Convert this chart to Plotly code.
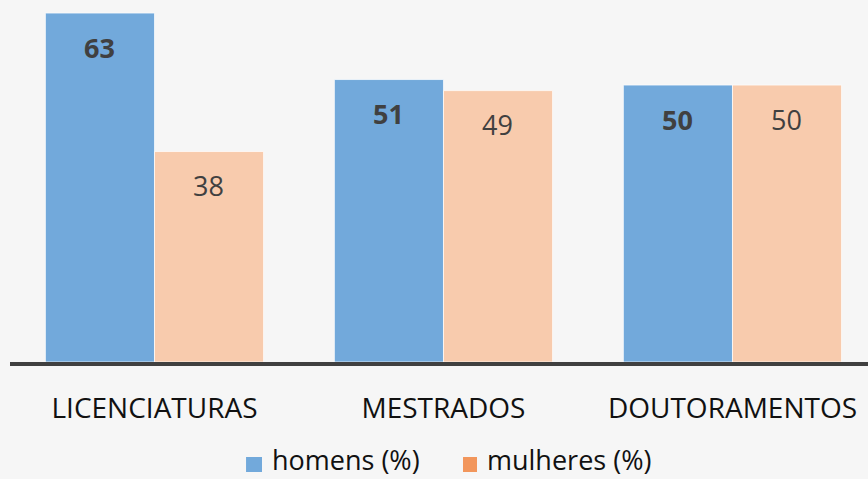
import plotly.graph_objects as go

categories = ["LICENCIATURAS", "MESTRADOS", "DOUTORAMENTOS"]
homens = [63, 51, 50]
mulheres = [38, 49, 50]
series_names = ["homens (%)", "mulheres (%)"]

blue = "#72A9DB"
peach = "#F8CBAD"
legend_orange = "#F2965C"
text_dark = "#404040"
font_family = "Open Sans, Noto Sans, Liberation Sans, sans-serif"

fig = go.Figure()
fig.add_trace(go.Bar(x=categories, y=homens, name=series_names[0], marker=dict(color=blue, line=dict(color="rgba(255,255,255,0.7)", width=1)), showlegend=False))
fig.add_trace(go.Bar(x=categories, y=mulheres, name=series_names[1], marker=dict(color=peach, line=dict(color="rgba(255,255,255,0.7)", width=1)), showlegend=False))

for c, h, m in zip(categories, homens, mulheres):
    fig.add_annotation(x=c, y=h, text=f"<b>{h}</b>", showarrow=False, xshift=-54.5, yshift=-34,
                       font=dict(size=27, color=text_dark, family=font_family))
    fig.add_annotation(x=c, y=m, text=f"{m}", showarrow=False, xshift=54.5, yshift=-34,
                       font=dict(size=27, color=text_dark, family=font_family))

# manual legend (squares + labels) below the axis
legend_items = [
    (series_names[0], blue, 0.2751, 0.2937, 0.303),
    (series_names[1], legend_orange, 0.528, 0.5443, 0.5536),
]
for name, col, sx0, sx1, tx in legend_items:
    fig.add_shape(type="rect", xref="paper", yref="paper", x0=sx0, x1=sx1, y0=-0.3056, y1=-0.2639,
                  fillcolor=col, line=dict(width=0))
    fig.add_annotation(xref="paper", yref="paper", x=tx, y=-0.2722, xanchor="left", yanchor="middle",
                       text=name, showarrow=False, font=dict(size=27, color="#111111", family=font_family))

fig.update_layout(
    width=868, height=479,
    margin=dict(l=10, r=0, t=2, b=117, autoexpand=False),
    paper_bgcolor="#F6F6F6", plot_bgcolor="rgba(0,0,0,0)",
    barmode="group", bargap=0.245, bargroupgap=0,
    font=dict(family=font_family, color="#111111"),
    showlegend=False,
)
fig.update_xaxes(range=[-0.5, 2.469], showline=True, linecolor="#404040", linewidth=4,
                 showgrid=False, ticks="", tickfont=dict(size=28, color="#111111"), ticklabelstandoff=18)
fig.update_yaxes(range=[0, 65], visible=False, showgrid=False, zeroline=False)

fig.write_html("out.html", config={"displayModeBar": False},
               post_script="document.body.style.margin='0';document.body.style.background='#F6F6F6';")
